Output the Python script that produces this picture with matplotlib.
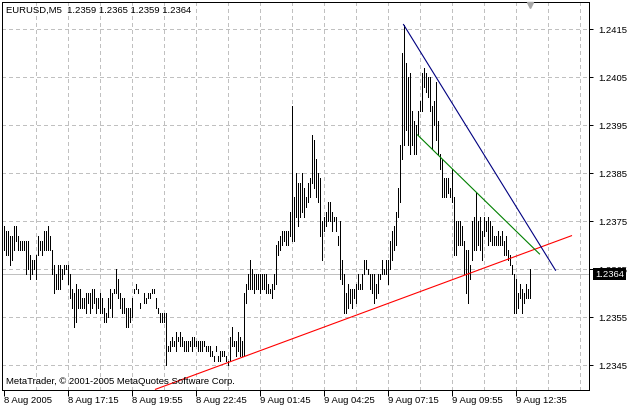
import numpy as np
import matplotlib
matplotlib.use("Agg")
import matplotlib.pyplot as plt
from matplotlib import transforms

plt.rcParams['font.family'] = ['Liberation Sans', 'DejaVu Sans']
plt.rcParams['lines.scale_dashes'] = False

# ---------------- data ----------------
symbol_text = "EURUSD,M5  1.2359 1.2365 1.2359 1.2364"
copyright_text = "MetaTrader, \u00a9 2001-2005 MetaQuotes Software Corp."

highs = [
    1.2374, 1.2373, 1.2373, 1.2372, 1.2372, 1.2374, 1.2374, 1.2372, 1.2371, 1.2371,
    1.2371, 1.2371, 1.2371, 1.2368, 1.2367, 1.2367, 1.2368, 1.2372, 1.2371, 1.2371,
    1.2373, 1.2373, 1.2374, 1.2372, 1.2369, 1.2366, 1.2364, 1.2366, 1.2366, 1.2365,
    1.2366, 1.2366, 1.2366, 1.2364, 1.2361, 1.2360, 1.2362, 1.2361, 1.2361, 1.2359,
    1.2359, 1.2360, 1.2360, 1.2360, 1.2361, 1.2361, 1.2359, 1.2359, 1.2360, 1.2359,
    1.2357, 1.2356, 1.2359, 1.2361, 1.2360, 1.2361, 1.2365, 1.2363, 1.2360, 1.2359,
    1.2359, 1.2357, 1.2357, 1.2357, 1.2359, 1.2361, 1.2362, 1.2361, 1.2358, 1.2359,
    1.2360, 1.2359, 1.2360, 1.2360, 1.2361, 1.2361, 1.2359, 1.2357, 1.2356, 1.2356,
    1.2356, 1.2356, 1.2349, 1.2350, 1.2351, 1.2350, 1.2352, 1.2351, 1.2352, 1.2351,
    1.2350, 1.2350, 1.2350, 1.2350, 1.2351, 1.2351, 1.2350, 1.2350, 1.2350, 1.2350,
    1.2350, 1.2349, 1.2349, 1.2349, 1.2348, 1.2347, 1.2349, 1.2347, 1.2348, 1.2348,
    1.2348, 1.2347, 1.2346, 1.2351, 1.2353, 1.2350, 1.2350, 1.2352, 1.2351, 1.2350,
    1.2360, 1.2362, 1.2364, 1.2367, 1.2365, 1.2364, 1.2364, 1.2364, 1.2364, 1.2364,
    1.2364, 1.2364, 1.2362, 1.2361, 1.2362, 1.2364, 1.2370, 1.2371, 1.2372, 1.2373,
    1.2373, 1.2373, 1.2373, 1.2377, 1.2399, 1.2380, 1.2385, 1.2383, 1.2383, 1.2385,
    1.2382, 1.2380, 1.2383, 1.2384, 1.2393, 1.2392, 1.2388, 1.2385, 1.2384, 1.2375,
    1.2376, 1.2377, 1.2379, 1.2379, 1.2377, 1.2376, 1.2376, 1.2372, 1.2375, 1.2367,
    1.2364, 1.2360, 1.2362, 1.2361, 1.2361, 1.2361, 1.2362, 1.2364, 1.2362, 1.2364,
    1.2367, 1.2367, 1.2365, 1.2364, 1.2364, 1.2364, 1.2362, 1.2364, 1.2364, 1.2367,
    1.2365, 1.2367, 1.2367, 1.2371, 1.2373, 1.2374, 1.2377, 1.2382, 1.2391, 1.2410,
    1.2416, 1.2408, 1.2405, 1.2406, 1.2398, 1.2396, 1.2395, 1.2398, 1.2400, 1.2406,
    1.2407, 1.2406, 1.2405, 1.2405, 1.2399, 1.2400, 1.2404, 1.2396, 1.2389, 1.2388,
    1.2384, 1.2384, 1.2384, 1.2382, 1.2386, 1.2380, 1.2375, 1.2375, 1.2375, 1.2374,
    1.2371, 1.2369, 1.2369, 1.2366, 1.2375, 1.2376, 1.2381, 1.2375, 1.2376, 1.2373,
    1.2376, 1.2375, 1.2376, 1.2375, 1.2374, 1.2372, 1.2372, 1.2373, 1.2372, 1.2373,
    1.2371, 1.2372, 1.2369, 1.2368, 1.2366, 1.2364, 1.2363, 1.2360, 1.2362, 1.2361,
    1.2360, 1.2362, 1.2361, 1.2365,
]

lows = [
    1.2369, 1.2368, 1.2368, 1.2366, 1.2367, 1.2369, 1.2371, 1.2369, 1.2369, 1.2369,
    1.2369, 1.2364, 1.2365, 1.2363, 1.2364, 1.2365, 1.2363, 1.2368, 1.2369, 1.2368,
    1.2369, 1.2369, 1.2369, 1.2369, 1.2364, 1.2360, 1.2361, 1.2361, 1.2361, 1.2363,
    1.2364, 1.2365, 1.2362, 1.2359, 1.2357, 1.2353, 1.2354, 1.2357, 1.2357, 1.2357,
    1.2357, 1.2356, 1.2358, 1.2356, 1.2357, 1.2358, 1.2356, 1.2357, 1.2356, 1.2356,
    1.2354, 1.2354, 1.2355, 1.2357, 1.2355, 1.2360, 1.2360, 1.2359, 1.2357, 1.2356,
    1.2356, 1.2353, 1.2353, 1.2354, 1.2355, 1.2360, 1.2361, 1.2360, 1.2357, 1.2359,
    1.2358, 1.2358, 1.2359, 1.2359, 1.2360, 1.2360, 1.2357, 1.2356, 1.2354, 1.2354,
    1.2354, 1.2345, 1.2348, 1.2348, 1.2349, 1.2349, 1.2348, 1.2350, 1.2349, 1.2349,
    1.2348, 1.2348, 1.2348, 1.2349, 1.2348, 1.2349, 1.2349, 1.2348, 1.2348, 1.2348,
    1.2349, 1.2348, 1.2348, 1.2347, 1.2347, 1.2346, 1.2348, 1.2346, 1.2346, 1.2347,
    1.2347, 1.2346, 1.2345, 1.2346, 1.2349, 1.2349, 1.2347, 1.2348, 1.2347, 1.2347,
    1.2347, 1.2358, 1.2361, 1.2361, 1.2361, 1.2360, 1.2361, 1.2361, 1.2360, 1.2361,
    1.2361, 1.2360, 1.2360, 1.2360, 1.2359, 1.2361, 1.2362, 1.2368, 1.2369, 1.2370,
    1.2371, 1.2370, 1.2370, 1.2372, 1.2371, 1.2371, 1.2376, 1.2374, 1.2376, 1.2377,
    1.2376, 1.2378, 1.2379, 1.2380, 1.2383, 1.2382, 1.2380, 1.2379, 1.2372, 1.2367,
    1.2373, 1.2374, 1.2375, 1.2375, 1.2373, 1.2375, 1.2373, 1.2370, 1.2363, 1.2362,
    1.2356, 1.2356, 1.2357, 1.2358, 1.2357, 1.2359, 1.2358, 1.2361, 1.2361, 1.2361,
    1.2364, 1.2365, 1.2364, 1.2361, 1.2360, 1.2358, 1.2359, 1.2360, 1.2363, 1.2364,
    1.2364, 1.2364, 1.2362, 1.2365, 1.2367, 1.2369, 1.2370, 1.2376, 1.2379, 1.2388,
    1.2391, 1.2394, 1.2391, 1.2389, 1.2391, 1.2389, 1.2389, 1.2393, 1.2398, 1.2398,
    1.2403, 1.2402, 1.2401, 1.2398, 1.2390, 1.2395, 1.2392, 1.2389, 1.2386, 1.2380,
    1.2380, 1.2380, 1.2381, 1.2380, 1.2379, 1.2368, 1.2368, 1.2370, 1.2370, 1.2370,
    1.2364, 1.2360, 1.2358, 1.2363, 1.2367, 1.2369, 1.2369, 1.2370, 1.2369, 1.2367,
    1.2372, 1.2373, 1.2370, 1.2371, 1.2370, 1.2370, 1.2370, 1.2370, 1.2370, 1.2370,
    1.2368, 1.2368, 1.2367, 1.2366, 1.2364, 1.2356, 1.2356, 1.2357, 1.2359, 1.2356,
    1.2358, 1.2359, 1.2359, 1.2359,
]

time_labels = ["8 Aug 2005", "8 Aug 17:15", "8 Aug 19:55", "8 Aug 22:45",
               "9 Aug 01:45", "9 Aug 04:25", "9 Aug 07:15", "9 Aug 09:55",
               "9 Aug 12:35"]
time_label_bars = [0, 32, 64, 96, 128, 160, 192, 224, 256]
price_ticks = [1.2345, 1.2355, 1.2365, 1.2375, 1.2385, 1.2395, 1.2405, 1.2415]
last_price = 1.2364

red_x, red_y = [76, 284], [1.2340, 1.2372]
blue_x, blue_y = [200, 276], [1.2416, 1.23648]
green_x, green_y = [207, 268], [1.2393, 1.23682]

# ---------------- figure ----------------
W, H = 630, 407
fig = plt.figure(figsize=(W / 100, H / 100), dpi=100)
fig.patch.set_facecolor('white')
ax = fig.add_axes([2 / W, 17 / H, 587 / W, 388 / H])

PX = 0.72  # one pixel in points
FS = 6.8
px_per_bar = 2.0
px_per_price = 48000.0
ax.set_xlim(-1.5 / px_per_bar, -1.5 / px_per_bar + 587 / px_per_bar)
y_top = 1.2415 + 27.3 / px_per_price
ax.set_ylim(y_top - 388 / px_per_price, y_top)

grid_c = '#c0c0c0'
dash = (0, (3 * PX, 3 * PX))
for p in price_ticks:
    ax.axhline(p, color=grid_c, lw=PX, ls=dash, antialiased=False, zorder=1)
for b in range(16, 293, 16):
    ax.axvline(b, color=grid_c, lw=PX, ls=dash, antialiased=False, zorder=1)

ax.axhline(last_price, color='#c0c0c0', lw=PX, antialiased=False, zorder=1.5)

idx = np.arange(len(highs))
bars = ax.vlines(idx, lows, highs, colors='black', linewidth=PX,
                 antialiased=False, zorder=3)
bars.set_capstyle('projecting')

TL = 0.8
ax.plot(red_x, red_y, color='#ff0000', lw=TL, antialiased=True, zorder=4)
ax.plot(green_x, green_y, color='#008000', lw=TL, antialiased=True, zorder=4)
ax.plot(blue_x, blue_y, color='#000080', lw=TL, antialiased=True, zorder=4)

# chart-shift marker
ax.plot([idx[-1]], [0.9935], marker='v', ms=5, color='#a8a8a8', mec='#a8a8a8',
        transform=transforms.blended_transform_factory(ax.transData, ax.transAxes),
        clip_on=False, zorder=5)

# axes styling
for s in ax.spines.values():
    s.set_color('black')
    s.set_linewidth(PX)
ax.yaxis.tick_right()
ax.set_yticks(price_ticks, [f"{p:.4f}" for p in price_ticks])
ax.set_xticks(time_label_bars, time_labels)
ax.tick_params(axis='y', length=3, width=PX, pad=3.4, labelsize=FS, colors='black')
ax.tick_params(axis='x', length=4, width=PX, pad=0.6, labelsize=FS, colors='black')
for lbl in ax.get_xticklabels():
    lbl.set_ha('left')

# current price box
ax.annotate(f"{last_price:.4f}", xy=(1.0, last_price),
            xycoords=transforms.blended_transform_factory(ax.transAxes, ax.transData),
            xytext=(6, 0), textcoords='offset pixels', va='center', ha='left',
            color='white', fontsize=FS, zorder=10, annotation_clip=False,
            bbox=dict(boxstyle='square,pad=0.2', fc='black', ec='black', lw=0))

fig.text(6 / W, 1 - 10.5 / H, symbol_text, va='center', ha='left', fontsize=FS, color='black')
fig.text(6 / W, 1 - 382 / H, copyright_text, va='center', ha='left', fontsize=FS, color='black')

fig.savefig('out.png', dpi=100, facecolor='white')
